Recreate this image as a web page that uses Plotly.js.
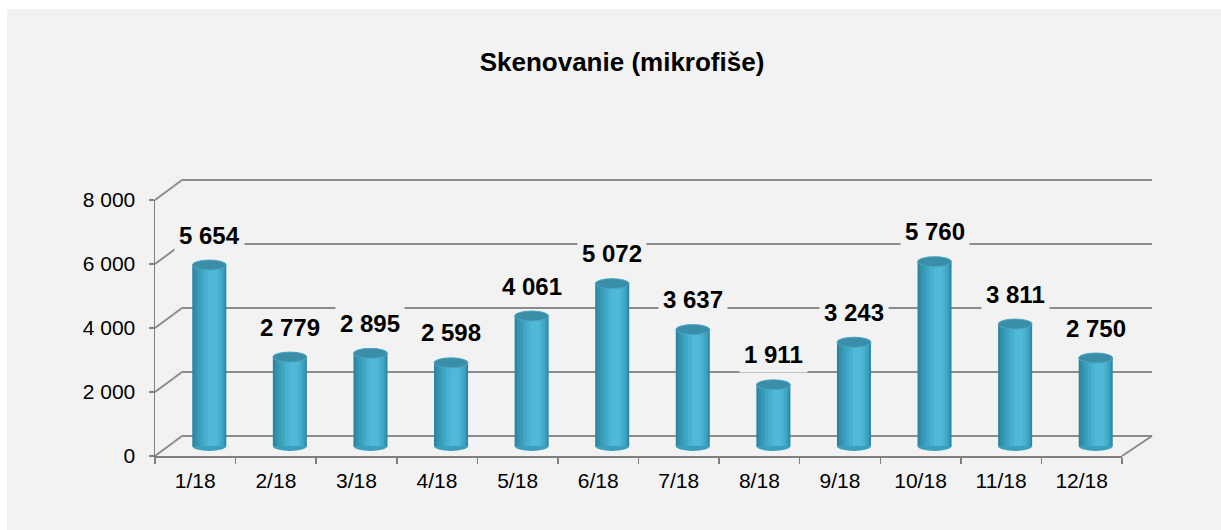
<!DOCTYPE html>
<html>
<head>
<meta charset="utf-8">
<script src="https://cdn.plot.ly/plotly-3.0.1.min.js"></script>
<style>
  html, body { margin: 0; padding: 0; background: #ffffff; width: 1221px; height: 530px; overflow: hidden; }
  #chart { position: absolute; left: 7px; top: 9px; width: 1214px; height: 521px; }
</style>
</head>
<body>
<div id="chart"></div>
<script>
// ---- data ----
const categories = ['1/18', '2/18', '3/18', '4/18', '5/18', '6/18', '7/18', '8/18', '9/18', '10/18', '11/18', '12/18'];
const values = [5654, 2779, 2895, 2598, 4061, 5072, 3637, 1911, 3243, 5760, 3811, 2750];
const yTickVals = [0, 2000, 4000, 6000, 8000];
const chartTitle = 'Skenovanie (mikrofiše)';

// ---- geometry (pixels) ----
const W = 1214, H = 521;
const M = { l: 148, r: 99, t: 191, b: 74 };
const plotW = W - M.l - M.r;      // 967
const plotH = H - M.t - M.b;      // 256
const yMax = 8000;
const pxPerCat = plotW / categories.length;
const unitsPerPx = yMax / plotH;
const depthXL = 27, depthXR = 30, depthY = 20;
const barShiftX = 14, barShiftY = 10;
const ellRy = 5;
const FONT = 'Liberation Sans, Arial, sans-serif';
const gridColor = '#8c8c8c';

function fmt(v) { return String(v).replace(/\B(?=(\d{3})+(?!\d))/g, ' '); }

const idx = categories.map((_, i) => i);

// cylinder body as overlaid bars forming a gradient
const layers = [
  { w: 34, off: 0,   color: '#2a849f' },
  { w: 31, off: 0.5, color: '#3190ac' },
  { w: 27, off: 1.5, color: '#389cb9' },
  { w: 22, off: 2.5, color: '#3fa7c5' },
  { w: 16, off: 3,   color: '#47b1cf' },
  { w: 9,  off: 3.5, color: '#50b9d7' }
];
const traces = layers.map(L => ({
  type: 'bar',
  x: idx,
  y: values,
  xaxis: 'x2',
  yaxis: 'y2',
  width: L.w / pxPerCat,
  offset: (-L.w / 2 + L.off) / pxPerCat,
  marker: { color: L.color, line: { width: 0 } },
  hoverinfo: 'skip',
  showlegend: false
}));
// invisible trace to carry the category axis
traces.push({
  type: 'scatter', x: categories, y: values.map(() => null),
  xaxis: 'x', yaxis: 'y', mode: 'markers', showlegend: false, hoverinfo: 'skip'
});

const shapes = [];
const dxL = depthXL / plotW, dxR = depthXR / plotW, dy = depthY / plotH;
yTickVals.forEach(g => {
  const yf = g / yMax;
  shapes.push({ type: 'line', xref: 'paper', yref: 'paper', x0: dxL, x1: 1 + dxR, y0: yf + dy, y1: yf + dy,
    line: { color: gridColor, width: 2 }, layer: 'below' });
  shapes.push({ type: 'line', xref: 'paper', yref: 'paper', x0: 0, x1: dxL, y0: yf, y1: yf + dy,
    line: { color: gridColor, width: 2 }, layer: 'below' });
});
shapes.push({ type: 'line', xref: 'paper', yref: 'paper', x0: 1, x1: 1 + dxR, y0: 0, y1: dy,
  line: { color: gridColor, width: 2 }, layer: 'below' });

const halfW = 17 / pxPerCat, ry = ellRy * unitsPerPx;
values.forEach((v, i) => {
  shapes.push({ type: 'circle', xref: 'x2', yref: 'y2', x0: i - halfW, x1: i + halfW, y0: -ry, y1: ry,
    fillcolor: '#3a9fbd', line: { width: 0 }, layer: 'below' });
  shapes.push({ type: 'circle', xref: 'x2', yref: 'y2', x0: i - halfW, x1: i + halfW, y0: v - ry, y1: v + ry,
    fillcolor: '#3b8ea8', line: { color: '#4aa6c2', width: 1 }, layer: 'above' });
});

const annotations = values.map((v, i) => ({
  xref: 'x2', yref: 'y2', x: i, y: v, yshift: 30,
  text: fmt(v), showarrow: false, xanchor: 'center', yanchor: 'middle',
  font: { family: FONT, size: 24, color: '#000000', weight: 'bold' },
  bgcolor: '#f2f2f2', borderpad: 4
}));

const shiftCat = barShiftX / pxPerCat;
const shiftY = barShiftY * unitsPerPx;

const layout = {
  width: W, height: H,
  margin: M,
  paper_bgcolor: '#f2f2f2',
  plot_bgcolor: 'rgba(0,0,0,0)',
  font: { family: FONT, color: '#000000' },
  barmode: 'overlay',
  title: {
    text: '<b>' + chartTitle + '</b>',
    font: { family: FONT, size: 26, color: '#000000' },
    xref: 'container', yref: 'container',
    x: 615 / W, xanchor: 'center',
    y: 1 - 53 / H, yanchor: 'middle'
  },
  xaxis: {
    type: 'category',
    range: [-0.5, categories.length - 0.5],
    tickson: 'boundaries',
    ticks: 'outside', ticklen: 6, tickwidth: 1.5, tickcolor: '#7f7f7f',
    showline: true, linecolor: '#7f7f7f', linewidth: 2,
    showgrid: false, zeroline: false,
    ticklabelstandoff: 5,
    tickfont: { family: FONT, size: 21, color: '#000000' },
    fixedrange: true
  },
  yaxis: {
    range: [0, yMax],
    tickvals: yTickVals,
    ticktext: yTickVals.map(fmt),
    ticks: 'outside', ticklen: 5, tickwidth: 1.5, tickcolor: '#7f7f7f',
    showline: true, linecolor: '#7f7f7f', linewidth: 1.5,
    showgrid: false, zeroline: false,
    ticklabelstandoff: 9,
    tickfont: { family: FONT, size: 21, color: '#000000' },
    fixedrange: true
  },
  xaxis2: {
    overlaying: 'x',
    range: [-0.5 - shiftCat, categories.length - 0.5 - shiftCat],
    visible: false, fixedrange: true
  },
  yaxis2: {
    overlaying: 'y',
    range: [-shiftY, yMax - shiftY],
    visible: false, fixedrange: true
  },
  shapes: shapes,
  annotations: annotations,
  showlegend: false
};

Plotly.newPlot('chart', traces, layout, { displayModeBar: false, staticPlot: true });
</script>
</body>
</html>
